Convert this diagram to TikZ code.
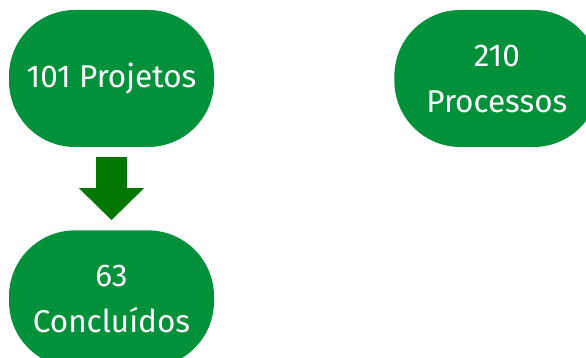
\documentclass[tikz,border=0pt]{standalone}
\usepackage{fontspec}
\setmainfont{Fira Sans}
\usetikzlibrary{arrows.meta,positioning}
\definecolor{boxgreen}{HTML}{00913A}
\definecolor{arrowgreen}{HTML}{007800}
\tikzset{
    %Define style for boxes
    count/.style={
           rectangle,
           rounded corners=66pt,
           fill=boxgreen,
           text=white,
           minimum width=205pt,
           minimum height=137pt,
           inner sep=0pt,
           align=center,
           font=\fontsize{31.5}{46}\selectfont},
    % Define arrow style
    fat/.style={
           draw=arrowgreen,
           line width=31pt,
           -{Triangle[width=63pt,length=32pt]},
           shorten <=10pt,
           shorten >=10pt}
}
\begin{document}
\begin{tikzpicture}[main node/.style={count}]
\useasboundingbox (0,0) rectangle (586pt,-358pt);
\node[main node] (P) at (111.5pt,-78.5pt) {101 Projetos};
\node[main node, right=180pt of P] (R) {210\\Processos};
\node[main node, below=83pt of P] (C) {63\\Concluídos};
\path[]
	(P) edge[fat] (C);
\end{tikzpicture}
\end{document}
